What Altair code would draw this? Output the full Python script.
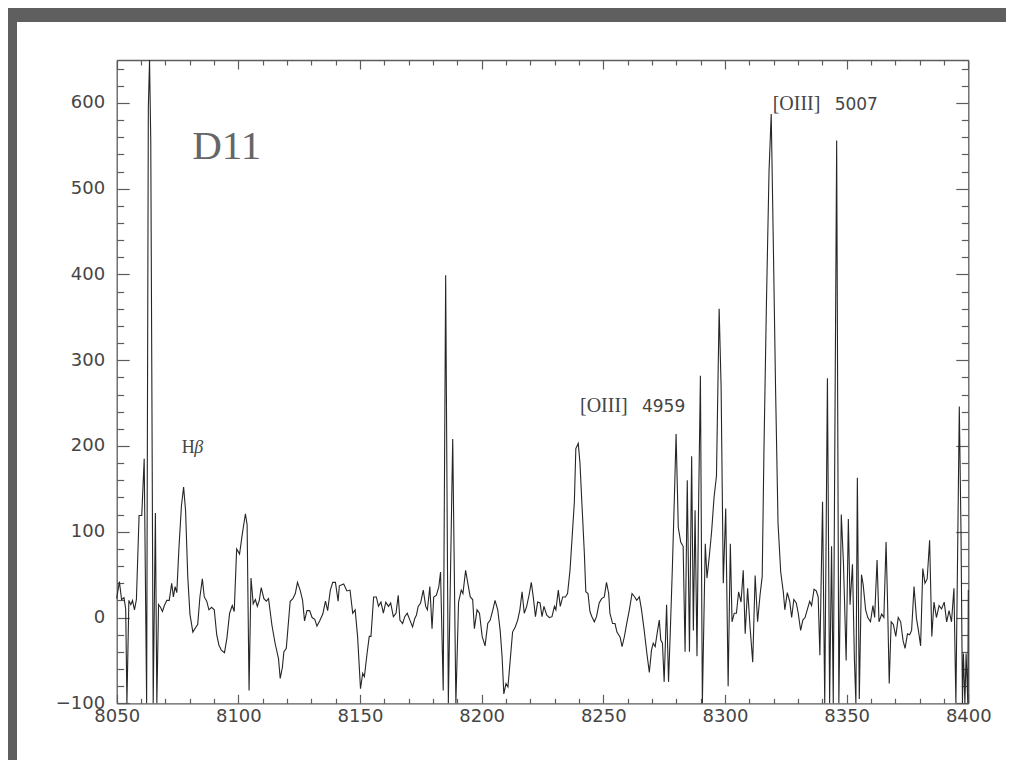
import altair as alt
import pandas as pd

wavelength = [
    8050.0, 8051.1, 8052.0, 8053.0, 8053.7, 8054.2, 8055.0, 8055.8, 8056.5, 8057.3,
    8058.1, 8059.2, 8060.3, 8061.3, 8062.3, 8063.0, 8063.5, 8064.0, 8064.5, 8065.0,
    8065.9, 8066.5, 8067.2, 8068.0, 8068.8, 8069.6, 8070.6, 8071.6, 8072.6, 8073.3,
    8074.0, 8074.7, 8075.6, 8076.6, 8077.5, 8078.3, 8079.2, 8080.1, 8081.3, 8082.4,
    8083.3, 8084.2, 8085.2, 8086.0, 8087.0, 8087.9, 8089.0, 8090.1, 8091.1, 8092.0,
    8093.0, 8094.3, 8095.3, 8096.4, 8097.5, 8098.3, 8099.3, 8100.5, 8101.6, 8102.9,
    8103.6, 8104.4, 8105.2, 8106.1, 8107.0, 8107.8, 8108.6, 8109.4, 8110.5, 8111.5,
    8112.4, 8113.8, 8115.1, 8116.5, 8117.2, 8118.1, 8118.7, 8119.7, 8121.3, 8122.4,
    8123.4, 8124.3, 8125.4, 8126.4, 8127.2, 8128.2, 8129.3, 8130.3, 8131.4, 8132.3,
    8133.4, 8134.7, 8135.8, 8136.7, 8137.8, 8138.8, 8139.9, 8141.0, 8141.5, 8143.3,
    8144.6, 8145.9, 8147.0, 8148.0, 8149.0, 8150.2, 8151.1, 8151.8, 8152.9, 8153.8,
    8154.5, 8155.6, 8156.7, 8157.6, 8158.6, 8159.6, 8160.6, 8161.7, 8162.6, 8163.7,
    8164.8, 8165.7, 8166.4, 8167.5, 8168.4, 8169.4, 8170.5, 8171.6, 8172.5, 8173.2,
    8173.9, 8174.9, 8176.0, 8177.0, 8177.7, 8178.7, 8179.6, 8180.3, 8181.4, 8182.4,
    8183.1, 8184.2, 8185.2, 8186.3, 8188.1, 8189.4, 8190.5, 8191.6, 8192.3, 8193.4,
    8194.3, 8195.3, 8196.3, 8197.0, 8198.1, 8199.1, 8200.2, 8201.4, 8202.5, 8203.5,
    8204.6, 8205.5, 8206.6, 8207.6, 8208.4, 8209.1, 8210.0, 8210.8, 8211.6, 8212.7,
    8213.8, 8214.8, 8215.7, 8216.6, 8217.5, 8218.5, 8219.6, 8220.4, 8221.2, 8222.1,
    8223.0, 8224.0, 8224.8, 8225.6, 8226.7, 8227.8, 8228.9, 8229.9, 8230.5, 8231.5,
    8232.3, 8233.3, 8234.4, 8235.3, 8236.3, 8237.1, 8238.1, 8238.7, 8239.7, 8240.4,
    8241.2, 8242.2, 8242.8, 8243.7, 8244.5, 8245.3, 8246.3, 8247.2, 8248.3, 8249.3,
    8250.4, 8251.3, 8252.2, 8252.7, 8253.8, 8254.8, 8255.6, 8256.9, 8257.7, 8258.6,
    8259.6, 8260.7, 8261.8, 8262.9, 8263.7, 8264.8, 8265.7, 8266.8, 8267.9, 8268.9,
    8269.8, 8270.5, 8271.3, 8272.3, 8273.0, 8273.6, 8274.3, 8275.0, 8276.0, 8276.8,
    8277.6, 8278.4, 8279.2, 8279.9, 8280.8, 8281.8, 8282.8, 8283.6, 8284.5, 8285.4,
    8286.3, 8287.0, 8287.7, 8288.5, 8289.1, 8289.9, 8290.7, 8291.9, 8292.6, 8293.5,
    8294.5, 8295.5, 8296.5, 8297.6, 8298.4, 8299.3, 8300.3, 8301.3, 8302.2, 8302.9,
    8303.8, 8304.7, 8305.6, 8306.6, 8307.5, 8308.3, 8309.3, 8310.3, 8311.4, 8312.4,
    8313.4, 8314.4, 8315.3, 8316.0, 8317.0, 8318.1, 8319.0, 8319.8, 8320.8, 8321.8,
    8322.9, 8324.0, 8324.6, 8325.6, 8326.6, 8327.4, 8328.3, 8329.3, 8330.1, 8331.1,
    8332.0, 8332.9, 8333.8, 8334.8, 8335.6, 8336.6, 8337.5, 8338.3, 8339.0, 8340.1,
    8341.0, 8342.1, 8343.0, 8343.8, 8344.5, 8345.9, 8346.8, 8347.8, 8348.7, 8349.8,
    8350.7, 8351.4, 8352.4, 8353.2, 8353.8, 8354.4, 8355.2, 8356.1, 8356.8, 8357.8,
    8358.7, 8359.8, 8360.8, 8361.5, 8362.5, 8363.3, 8364.4, 8365.3, 8366.2, 8366.8,
    8367.5, 8368.3, 8369.2, 8370.2, 8371.2, 8372.2, 8373.2, 8374.0, 8375.0, 8375.9,
    8376.7, 8377.7, 8378.7, 8379.5, 8380.4, 8381.3, 8382.2, 8383.1, 8384.1, 8385.0,
    8385.9, 8386.9, 8388.0, 8389.0, 8390.1, 8391.1, 8392.1, 8393.1, 8394.1, 8394.9,
    8396.3, 8397.0, 8397.6, 8398.0, 8398.6, 8399.1, 8399.8, 8400.0,
]
flux = [
    22, 42, 21, 23, 10, -150, 20, 15, 20, 9,
    21, 119, 119, 185, -150, 595, 720, 555, 240, -150,
    122, -150, 15, 12, 7, 14, 20, 20, 40, 24,
    36, 29, 82, 130, 152, 125, 48, 4, -17, -12,
    -8, 24, 45, 24, 19, 9, 12, 9, -20, -32,
    -38, -41, -24, 5, 14, 7, 80, 74, 97, 121,
    108, -85, 46, 16, 21, 13, 20, 35, 22, 19,
    22, -9, -30, -48, -71, -58, -40, -36, 19, 22,
    28, 41, 32, 20, -4, 8, 8, 0, -2, -10,
    -4, 4, 19, 8, 32, 41, 41, 19, 37, 39,
    31, 32, 5, 9, -22, -83, -65, -69, -42, -22,
    -22, 24, 24, 13, 18, 5, 18, 13, 17, 1,
    5, 26, -3, -7, 1, 5, -3, -11, -1, 3,
    13, 17, 32, 13, 9, 36, -13, 24, 26, 36,
    53, -85, 399, -150, 208, -150, 18, 32, 28, 55,
    40, 24, 21, -13, 9, 5, -22, -33, -7, -3,
    9, 20, 9, -15, -46, -89, -77, -81, -54, -17,
    -11, -3, 9, 30, 5, 13, 28, 41, 24, 1,
    18, 17, 1, 13, 3, 0, 1, 13, 9, 32,
    13, 24, 24, 28, 55, 90, 135, 197, 203, 180,
    133, 75, 30, 28, 7, 1, -5, 1, 17, 22,
    24, 41, 28, 5, -7, -7, -17, -23, -34, -23,
    -7, 9, 28, 24, 20, 24, 9, -15, -42, -64,
    -38, -30, -34, -15, -3, -26, -30, -75, 15, -75,
    -10, 60, 140, 214, 105, 88, 83, -40, 160, -40,
    188, -15, 125, -45, 120, 282, -150, 86, 46, 70,
    100, 140, 165, 360, 270, 40, 127, -80, 86, -5,
    5, 5, 30, 18, 55, -19, 34, -11, -52, 49,
    -5, 26, 48, 192, 361, 520, 587, 448, 265, 110,
    53, 29, 9, 29, 19, 0, 21, 17, 5, -15,
    -3, 0, 9, 19, 14, 33, 31, 24, -44, 135,
    -150, 279, -150, 83, -150, 556, -150, 120, 63, -50,
    115, 15, 62, -50, -150, 163, -95, 50, 38, 9,
    0, -5, 14, 0, 67, -5, 4, 0, 88, 20,
    -77, -5, -8, -22, 0, -5, -27, -36, -19, -20,
    -15, 36, -1, -15, -33, 57, 40, 45, 90, -22,
    18, 0, 14, 10, 18, -5, 8, -5, 34, -150,
    246, 100, -150, -42, -150, -42, -150, 32,
]

# ---- axes: tick values and labels ----
x_major = [8050, 8100, 8150, 8200, 8250, 8300, 8350, 8400]
x_minor = [v for v in range(8060, 8400, 10) if v % 50 != 0]
y_major = [-100, 0, 100, 200, 300, 400, 500, 600]
y_minor = [v for v in range(-80, 650, 20) if v % 100 != 0]

# ---- annotations ----
title_text = ["D11"]
title_x = [8081]
title_y = [535]
hb_x = [8076.7]
hb_y = [192]
line_names = ["[OIII]", "[OIII]"]
line_waves = ["4959", "5007"]
line_x = [8240.4, 8319.6]
line_y = [239.5, 591.5]

spec = pd.DataFrame({"wavelength": wavelength, "flux": flux})
title_df = pd.DataFrame({"x": title_x, "y": title_y, "t": title_text})
hb_df = pd.DataFrame({"x": hb_x, "y": hb_y})
oiii_df = pd.DataFrame({"x": line_x, "y": line_y, "name": line_names, "wave": line_waves})

FRAME = "#5c5c5c"
LABEL = "#454545"

xs = alt.Scale(domain=[8050, 8400], range=[99.7, 951.3], clamp=True, nice=False, zero=False)
ys = alt.Scale(domain=[-100, 650], range=[681.3, 38], clamp=True, nice=False, zero=False)


def tick_axis(orient, offset, values, size, domain):
    return alt.Axis(orient=orient, offset=offset, values=values, tickSize=size,
                    labels=False, domain=domain, grid=False, title=None, ticks=True,
                    tickColor=FRAME, tickWidth=1.2, domainColor=FRAME, domainWidth=1.3)


def dummy(xaxis, yaxis):
    return alt.Chart(spec).mark_line(strokeOpacity=0).encode(
        x=alt.X("wavelength:Q", scale=xs, axis=xaxis),
        y=alt.Y("flux:Q", scale=ys, axis=yaxis),
    )


line = alt.Chart(spec).mark_line(color="#262626", strokeWidth=1.1).encode(
    x=alt.X("wavelength:Q", scale=xs,
            axis=alt.Axis(orient="bottom", offset=-63.7, values=x_major, ticks=False,
                          domain=False, grid=False, title=None, format="d",
                          labelPadding=11, labelFont="DejaVu Sans", labelFontSize=18,
                          labelColor=LABEL, labelFlush=False, labelOverlap=False)),
    y=alt.Y("flux:Q", scale=ys,
            axis=alt.Axis(orient="left", offset=-99.7, values=y_major, ticks=False,
                          domain=False, grid=False, title=None, format="d",
                          labelPadding=12, labelFont="DejaVu Sans", labelFontSize=18,
                          labelColor=LABEL, labelOverlap=False)),
)

# frame: bottom/left with inward ticks, top/right with inward ticks
bl_major = dummy(tick_axis("top", -681.3, x_major, 9, True),
                 tick_axis("right", -889.3, y_major, 12.5, True))
bl_minor = dummy(tick_axis("top", -681.3, x_minor, 5, False),
                 tick_axis("right", -889.3, y_minor, 7, False))
tr_major = dummy(tick_axis("bottom", -700, x_major, 9, True),
                 tick_axis("left", -951.3, y_major, 12.5, True))
tr_minor = dummy(tick_axis("bottom", -700, x_minor, 5, False),
                 tick_axis("left", -951.3, y_minor, 7, False))

title_mark = alt.Chart(title_df).mark_text(
    font="Liberation Serif", fontSize=41, color="#666666", align="left", baseline="alphabetic"
).encode(x=alt.X("x:Q", scale=xs, axis=None), y=alt.Y("y:Q", scale=ys, axis=None), text="t:N")

h_mark = alt.Chart(hb_df).mark_text(
    text="H", font="Liberation Serif", fontSize=18, color=LABEL, align="left", baseline="alphabetic"
).encode(x=alt.X("x:Q", scale=xs, axis=None), y=alt.Y("y:Q", scale=ys, axis=None))

beta_mark = alt.Chart(hb_df).mark_text(
    text="β", font="Liberation Serif", fontSize=18, fontStyle="italic", color=LABEL,
    align="left", baseline="alphabetic", dx=12.5
).encode(x=alt.X("x:Q", scale=xs, axis=None), y=alt.Y("y:Q", scale=ys, axis=None))

oiii_mark = alt.Chart(oiii_df).mark_text(
    font="Liberation Serif", fontSize=20, color=LABEL, align="left", baseline="alphabetic"
).encode(x=alt.X("x:Q", scale=xs, axis=None), y=alt.Y("y:Q", scale=ys, axis=None), text="name:N")

wave_mark = alt.Chart(oiii_df).mark_text(
    font="DejaVu Sans", fontSize=17, color=LABEL, align="left", baseline="alphabetic", dx=62
).encode(x=alt.X("x:Q", scale=xs, axis=None), y=alt.Y("y:Q", scale=ys, axis=None), text="wave:N")

chart = alt.layer(
    line, bl_major, bl_minor, tr_major, tr_minor,
    title_mark, h_mark, beta_mark, oiii_mark, wave_mark,
).resolve_axis(x="independent", y="independent").properties(
    width=989, height=738,
    autosize=alt.AutoSizeParams(type="none"),
    padding={"left": 9, "top": 14, "right": 0, "bottom": 0},
    background="#5f5f5f",
).configure_view(fill="white", stroke=None)

chart.save("out.html", embed_options={"renderer": "svg", "actions": False})
